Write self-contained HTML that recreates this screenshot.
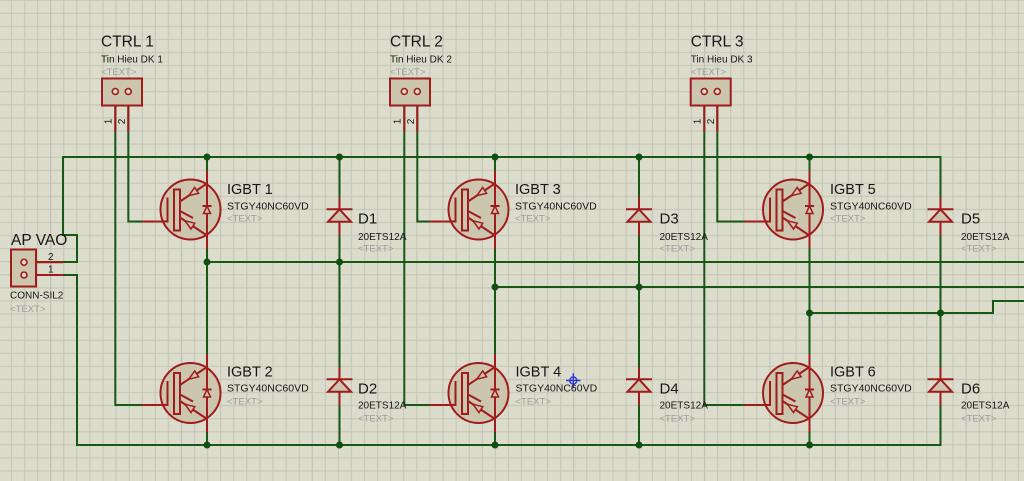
<!DOCTYPE html>
<html><head><meta charset="utf-8"><style>
html,body{margin:0;padding:0;width:1024px;height:481px;overflow:hidden;background:#dcdccd}
svg{display:block}
text{font-family:"Liberation Sans",Arial,sans-serif;fill:#161616}
.g{fill:#9c9c9c;font-size:9.5px}
.w{fill:none;stroke:#175817;stroke-width:2}
.r{fill:none;stroke:#a01c1c;stroke-width:2}
.f{fill:#ccc6ae;stroke:#a01c1c;stroke-width:2}
.a{fill:#ccc6ae;stroke:#a01c1c;stroke-width:1.5;stroke-linejoin:miter}
.j{fill:#0f4f0f}
</style></head><body>
<svg width="1024" height="481" viewBox="0 0 1024 481" xmlns="http://www.w3.org/2000/svg">
<defs>
<pattern id="gp" x="-8.14" y="6.76" width="13.077" height="13.077" patternUnits="userSpaceOnUse">
<path d="M6.54 0V13.077M0 6.54H13.077" stroke="#c3c3b3" stroke-width="1" fill="none"/>
</pattern>
</defs>
<rect width="1024" height="481" fill="#dcdccd"/>
<rect width="1024" height="481" fill="url(#gp)"/>
<path d="M50.7 0V481M181.5 0V481M312.2 0V481M443 0V481M573.8 0V481M704.5 0V481M835.3 0V481M966.1 0V481" stroke="#bababa" stroke-opacity="0.55" stroke-width="1"/>

<!-- wires -->
<path class="w" d="M24,275 H77 V445 H940.5 V157 H63 V235 H77 V262 H24"/>
<path class="w" d="M207,157V445M339.5,157V445M495,157V445M639,157V445M809.5,157V445"/>
<path class="w" d="M207,262H1024M495,287H1024M809.5,313H993V301H1024"/>
<path class="w" d="M115.3,91.5V405H143M128.3,91.5V221.5H143"/>
<path class="w" d="M404.3,91.5V405H430M417.3,91.5V221.5H430"/>
<path class="w" d="M704.3,91.5V405H745M717.3,91.5V221.5H745"/>

<!-- red pin leads -->
<path class="r" d="M115.3,91.5V131.7M128.3,91.5V131.7M404.3,91.5V131.7M417.3,91.5V131.7M704.3,91.5V131.7M717.3,91.5V131.7M24,262.3H63M24,275H63"/>

<!-- junctions -->
<g class="j">
<circle cx="207" cy="157" r="3.5"/><circle cx="339.5" cy="157" r="3.5"/><circle cx="495" cy="157" r="3.5"/><circle cx="639" cy="157" r="3.5"/><circle cx="809.5" cy="157" r="3.5"/>
<circle cx="207" cy="262" r="3.5"/><circle cx="339.5" cy="262" r="3.5"/>
<circle cx="495" cy="287" r="3.5"/><circle cx="639" cy="287" r="3.5"/>
<circle cx="809.5" cy="313" r="3.5"/><circle cx="940.5" cy="313" r="3.5"/>
<circle cx="207" cy="445" r="3.5"/><circle cx="339.5" cy="445" r="3.5"/><circle cx="495" cy="445" r="3.5"/><circle cx="639" cy="445" r="3.5"/><circle cx="809.5" cy="445" r="3.5"/>
</g>

<!-- connectors -->
<g>
<rect class="f" x="102" y="78.5" width="40" height="27"/>
<circle cx="115.3" cy="91.5" r="3" fill="#ddd8c8" stroke="#a01c1c" stroke-width="1.6"/>
<circle cx="128.3" cy="91.5" r="3" fill="#ddd8c8" stroke="#a01c1c" stroke-width="1.6"/>
<rect class="f" x="390" y="78.5" width="40" height="27"/>
<circle cx="404.3" cy="91.5" r="3" fill="#ddd8c8" stroke="#a01c1c" stroke-width="1.6"/>
<circle cx="417.3" cy="91.5" r="3" fill="#ddd8c8" stroke="#a01c1c" stroke-width="1.6"/>
<rect class="f" x="690.7" y="78.5" width="40" height="27"/>
<circle cx="704.3" cy="91.5" r="3" fill="#ddd8c8" stroke="#a01c1c" stroke-width="1.6"/>
<circle cx="717.3" cy="91.5" r="3" fill="#ddd8c8" stroke="#a01c1c" stroke-width="1.6"/>
<rect class="f" x="11" y="249.5" width="25" height="37"/>
<circle cx="24" cy="262.3" r="3" fill="#ddd8c8" stroke="#a01c1c" stroke-width="1.6"/>
<circle cx="24" cy="275" r="3" fill="#ddd8c8" stroke="#a01c1c" stroke-width="1.6"/>
</g>

<!-- IGBTs -->
<g transform="translate(207,209.5)">
<circle class="f" cx="-16.5" cy="0" r="30"/>
<path class="r" d="M0,-39V39M-65,12H-39.5V-12M-27,-8L0,-26M-27,1.5L-14,8.5M-27,8L0,26"/>
<rect class="f" x="-33" y="-20" width="6" height="41"/>
<polygon class="a" points="-18.1,-13.9 -8.4,-16.2 -12.3,-22"/>
<polygon class="a" points="-22,11.3 -16,19.5 -12.2,13.7"/>
<path class="r" d="M-4.5,-3.5H4.5"/><polygon class="a" points="0,-3.5 -3.5,4 3.5,4"/>
</g>
<g transform="translate(207,393)">
<circle class="f" cx="-16.5" cy="0" r="30"/>
<path class="r" d="M0,-39V39M-65,12H-39.5V-12M-27,-8L0,-26M-27,1.5L-14,8.5M-27,8L0,26"/>
<rect class="f" x="-33" y="-20" width="6" height="41"/>
<polygon class="a" points="-18.1,-13.9 -8.4,-16.2 -12.3,-22"/>
<polygon class="a" points="-22,11.3 -16,19.5 -12.2,13.7"/>
<path class="r" d="M-4.5,-3.5H4.5"/><polygon class="a" points="0,-3.5 -3.5,4 3.5,4"/>
</g>
<g transform="translate(495,209.5)">
<circle class="f" cx="-16.5" cy="0" r="30"/>
<path class="r" d="M0,-39V39M-65,12H-39.5V-12M-27,-8L0,-26M-27,1.5L-14,8.5M-27,8L0,26"/>
<rect class="f" x="-33" y="-20" width="6" height="41"/>
<polygon class="a" points="-18.1,-13.9 -8.4,-16.2 -12.3,-22"/>
<polygon class="a" points="-22,11.3 -16,19.5 -12.2,13.7"/>
<path class="r" d="M-4.5,-3.5H4.5"/><polygon class="a" points="0,-3.5 -3.5,4 3.5,4"/>
</g>
<g transform="translate(495,393)">
<circle class="f" cx="-16.5" cy="0" r="30"/>
<path class="r" d="M0,-39V39M-65,12H-39.5V-12M-27,-8L0,-26M-27,1.5L-14,8.5M-27,8L0,26"/>
<rect class="f" x="-33" y="-20" width="6" height="41"/>
<polygon class="a" points="-18.1,-13.9 -8.4,-16.2 -12.3,-22"/>
<polygon class="a" points="-22,11.3 -16,19.5 -12.2,13.7"/>
<path class="r" d="M-4.5,-3.5H4.5"/><polygon class="a" points="0,-3.5 -3.5,4 3.5,4"/>
</g>
<g transform="translate(809.5,209.5)">
<circle class="f" cx="-16.5" cy="0" r="30"/>
<path class="r" d="M0,-39V39M-65,12H-39.5V-12M-27,-8L0,-26M-27,1.5L-14,8.5M-27,8L0,26"/>
<rect class="f" x="-33" y="-20" width="6" height="41"/>
<polygon class="a" points="-18.1,-13.9 -8.4,-16.2 -12.3,-22"/>
<polygon class="a" points="-22,11.3 -16,19.5 -12.2,13.7"/>
<path class="r" d="M-4.5,-3.5H4.5"/><polygon class="a" points="0,-3.5 -3.5,4 3.5,4"/>
</g>
<g transform="translate(809.5,393)">
<circle class="f" cx="-16.5" cy="0" r="30"/>
<path class="r" d="M0,-39V39M-65,12H-39.5V-12M-27,-8L0,-26M-27,1.5L-14,8.5M-27,8L0,26"/>
<rect class="f" x="-33" y="-20" width="6" height="41"/>
<polygon class="a" points="-18.1,-13.9 -8.4,-16.2 -12.3,-22"/>
<polygon class="a" points="-22,11.3 -16,19.5 -12.2,13.7"/>
<path class="r" d="M-4.5,-3.5H4.5"/><polygon class="a" points="0,-3.5 -3.5,4 3.5,4"/>
</g>

<!-- Diodes -->
<g transform="translate(339.5,209.3)"><path class="r" d="M0,-12V26"/><polygon class="f" points="0,0 -11.5,12.5 11.5,12.5"/><path class="r" stroke-width="2.5" d="M-13,0H13"/></g>
<g transform="translate(339.5,379.3)"><path class="r" d="M0,-12V26"/><polygon class="f" points="0,0 -11.5,12.5 11.5,12.5"/><path class="r" stroke-width="2.5" d="M-13,0H13"/></g>
<g transform="translate(639,209.3)"><path class="r" d="M0,-12V26"/><polygon class="f" points="0,0 -11.5,12.5 11.5,12.5"/><path class="r" stroke-width="2.5" d="M-13,0H13"/></g>
<g transform="translate(639,379.3)"><path class="r" d="M0,-12V26"/><polygon class="f" points="0,0 -11.5,12.5 11.5,12.5"/><path class="r" stroke-width="2.5" d="M-13,0H13"/></g>
<g transform="translate(940.5,209.3)"><path class="r" d="M0,-12V26"/><polygon class="f" points="0,0 -11.5,12.5 11.5,12.5"/><path class="r" stroke-width="2.5" d="M-13,0H13"/></g>
<g transform="translate(940.5,379.3)"><path class="r" d="M0,-12V26"/><polygon class="f" points="0,0 -11.5,12.5 11.5,12.5"/><path class="r" stroke-width="2.5" d="M-13,0H13"/></g>

<!-- cursor -->
<g stroke="#2a3ad0" stroke-width="1.4" fill="none"><circle cx="573.3" cy="380.5" r="3.5"/><path d="M566,380.5H580.6M573.3,373.2V387.8"/></g>

<!-- labels: CTRL -->
<text x="101" y="46.5" font-size="15.5">CTRL 1</text>
<text x="101" y="62.7" font-size="10">Tin Hieu DK 1</text>
<text x="101" y="75" class="g">&lt;TEXT&gt;</text>
<text x="390" y="46.5" font-size="15.5">CTRL 2</text>
<text x="390" y="62.7" font-size="10">Tin Hieu DK 2</text>
<text x="390" y="75" class="g">&lt;TEXT&gt;</text>
<text x="690.7" y="46.5" font-size="15.5">CTRL 3</text>
<text x="690.7" y="62.7" font-size="10">Tin Hieu DK 3</text>
<text x="690.7" y="75" class="g">&lt;TEXT&gt;</text>

<!-- pin numbers rotated -->
<g font-size="10" text-anchor="middle">
<text transform="translate(111.3,121.5) rotate(-90)">1</text>
<text transform="translate(124.8,121.5) rotate(-90)">2</text>
<text transform="translate(400.5,121.5) rotate(-90)">1</text>
<text transform="translate(413.8,121.5) rotate(-90)">2</text>
<text transform="translate(700.5,121.5) rotate(-90)">1</text>
<text transform="translate(713.8,121.5) rotate(-90)">2</text>
</g>

<!-- AP VAO -->
<text x="11" y="245" font-size="15.5">AP VAO</text>
<text x="48" y="260" font-size="10">2</text>
<text x="48" y="272.5" font-size="10">1</text>
<text x="10" y="298.5" font-size="10">CONN-SIL2</text>
<text x="10" y="312" class="g">&lt;TEXT&gt;</text>

<!-- IGBT labels -->
<text x="227" y="194" font-size="14.5">IGBT 1</text>
<text x="227" y="209.5" font-size="10.5">STGY40NC60VD</text>
<text x="227" y="221.5" class="g">&lt;TEXT&gt;</text>
<text x="227" y="376.7" font-size="14.5">IGBT 2</text>
<text x="227" y="391.7" font-size="10.5">STGY40NC60VD</text>
<text x="227" y="404.5" class="g">&lt;TEXT&gt;</text>
<text x="515" y="194" font-size="14.5">IGBT 3</text>
<text x="515" y="209.5" font-size="10.5">STGY40NC60VD</text>
<text x="515" y="221.5" class="g">&lt;TEXT&gt;</text>
<text x="515.5" y="376.7" font-size="14.5">IGBT 4</text>
<text x="515.5" y="391.7" font-size="10.5">STGY40NC60VD</text>
<text x="515.5" y="404.5" class="g">&lt;TEXT&gt;</text>
<text x="830" y="194" font-size="14.5">IGBT 5</text>
<text x="830" y="209.5" font-size="10.5">STGY40NC60VD</text>
<text x="830" y="221.5" class="g">&lt;TEXT&gt;</text>
<text x="830" y="376.7" font-size="14.5">IGBT 6</text>
<text x="830" y="391.7" font-size="10.5">STGY40NC60VD</text>
<text x="830" y="404.5" class="g">&lt;TEXT&gt;</text>

<!-- Diode labels -->
<text x="358" y="223.3" font-size="15">D1</text>
<text x="358" y="240" font-size="10">20ETS12A</text>
<text x="358" y="251.5" class="g">&lt;TEXT&gt;</text>
<text x="358" y="393.3" font-size="15">D2</text>
<text x="358" y="408.3" font-size="10">20ETS12A</text>
<text x="358" y="421.5" class="g">&lt;TEXT&gt;</text>
<text x="659.5" y="223.3" font-size="15">D3</text>
<text x="659.5" y="240" font-size="10">20ETS12A</text>
<text x="659.5" y="251.5" class="g">&lt;TEXT&gt;</text>
<text x="659.5" y="393.3" font-size="15">D4</text>
<text x="659.5" y="408.3" font-size="10">20ETS12A</text>
<text x="659.5" y="421.5" class="g">&lt;TEXT&gt;</text>
<text x="961" y="223.3" font-size="15">D5</text>
<text x="961" y="240" font-size="10">20ETS12A</text>
<text x="961" y="251.5" class="g">&lt;TEXT&gt;</text>
<text x="961" y="393.3" font-size="15">D6</text>
<text x="961" y="408.3" font-size="10">20ETS12A</text>
<text x="961" y="421.5" class="g">&lt;TEXT&gt;</text>
</svg>
</body></html>
